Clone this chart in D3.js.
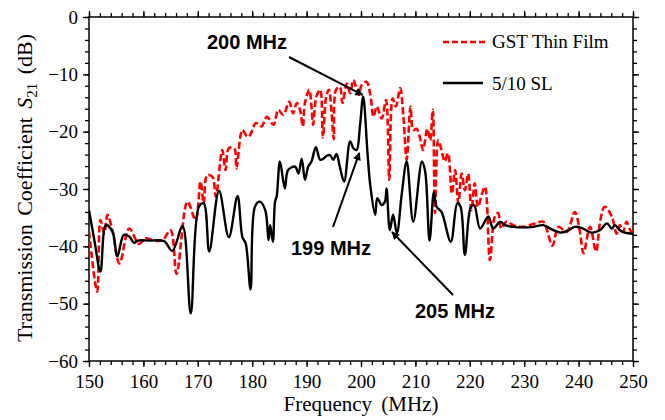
<!DOCTYPE html>
<meta charset="utf-8">
<script src="https://d3js.org/d3.v7.min.js"></script>
<style>
  body { margin: 0; background: #fff; }
  svg text { font-family: "Liberation Serif", "Times New Roman", serif; fill: #000; }
  svg text.anno { font-family: "Liberation Sans", Arial, sans-serif; font-weight: bold; }
</style>
<div id="chart"></div>
<script>

// GST thin film (red dashed)
var gstFreq = [150.0, 151.5, 152.1, 152.8, 153.4, 154.3, 155.6, 157.4, 159.2, 160.4,
  162.0, 163.5, 165.0, 166.1, 168.1, 169.6, 170.5, 171.1, 171.7, 172.7,
  173.3, 174.5, 175.1, 175.7, 176.7, 177.1, 178.2, 179.1, 179.6, 180.7,
  181.7, 182.7, 183.9, 184.8, 185.7, 186.8, 187.5, 188.2, 188.8, 189.3,
  189.7, 190.5, 190.9, 191.2, 191.8, 192.5, 193.0, 193.6, 194.1, 194.6,
  195.0, 195.4, 196.1, 196.6, 197.4, 198.0, 198.6, 199.2, 199.6, 200.1,
  201.0, 201.7, 202.3, 202.9, 203.8, 204.6, 205.2, 205.8, 206.4, 207.2,
  207.8, 208.4, 209.1, 209.6, 210.2, 210.8, 211.4, 212.2, 212.7, 213.2,
  213.6, 214.2, 214.8, 215.4, 216.0, 216.7, 217.3, 217.9, 218.5, 219.1,
  219.7, 220.3, 220.9, 221.5, 222.2, 222.8, 223.7, 224.6, 225.2, 225.8,
  226.7, 228.0, 229.8, 232.0, 233.5, 234.1, 235.2, 236.3, 237.8, 239.3,
  240.2, 240.9, 242.1, 243.2, 244.0, 244.8, 246.1, 247.0, 247.6, 248.2,
  248.8, 249.7, 250.0];
var gstS21 = [-37.4, -47.9, -35.4, -37.7, -34.5, -37.2, -43.0, -36.9, -39.6, -38.6,
  -39.0, -38.9, -37.2, -44.8, -32.2, -35.4, -28.7, -32.5, -27.6, -27.9,
  -31.3, -23.2, -26.7, -22.9, -22.9, -26.4, -19.7, -20.9, -20.6, -18.5,
  -19.1, -17.4, -18.8, -16.2, -17.1, -14.8, -16.8, -15.0, -16.2, -19.1,
  -15.0, -12.7, -15.6, -18.8, -13.9, -12.7, -21.0, -13.9, -12.7, -16.8,
  -21.3, -12.7, -12.2, -15.0, -11.6, -13.3, -11.0, -12.7, -13.6, -11.9,
  -11.3, -13.5, -17.4, -15.6, -17.7, -14.5, -28.4, -14.2, -15.6, -12.4,
  -17.4, -24.9, -15.6, -19.7, -19.5, -20.9, -23.2, -19.5, -21.5, -16.2,
  -34.2, -21.5, -23.2, -25.2, -23.8, -30.8, -26.7, -32.5, -27.3, -30.2,
  -27.3, -33.7, -29.0, -33.1, -31.0, -29.6, -42.4, -34.8, -34.2, -36.9,
  -35.7, -36.3, -36.6, -36.0, -35.7, -36.9, -39.9, -36.6, -37.5, -34.0,
  -37.2, -41.2, -36.6, -40.9, -35.4, -33.1, -34.8, -37.8, -36.3, -37.5,
  -35.7, -37.5, -36.5];

// 5/10 superlattice (black solid)
var slFreq = [150.0, 151.0, 152.1, 153.1, 154.3, 155.2, 156.4, 157.4, 158.3, 159.0,
  161.0, 163.8, 165.3, 167.2, 168.7, 170.2, 171.1, 172.1, 173.9, 175.7,
  177.3, 178.2, 178.8, 179.7, 180.5, 181.4, 182.4, 183.0, 183.3, 183.8,
  184.2, 184.5, 185.1, 186.0, 186.6, 187.9, 188.5, 189.1, 189.7, 190.3,
  190.9, 191.7, 192.5, 193.1, 193.7, 194.3, 194.9, 195.5, 196.1, 196.9,
  198.0, 198.6, 199.2, 199.8, 200.4, 201.2, 201.7, 202.6, 203.0, 203.8,
  204.4, 204.7, 205.3, 205.9, 206.6, 207.5, 208.4, 209.6, 211.2, 211.8,
  212.6, 213.4, 213.9, 214.8, 216.5, 217.7, 218.3, 219.1, 220.2, 220.8,
  221.9, 223.4, 224.3, 225.6, 226.5, 228.0, 229.8, 231.7, 233.5, 234.8,
  236.6, 238.1, 239.3, 240.8, 242.4, 243.9, 245.2, 246.1, 246.7, 247.6,
  248.5, 250.0];
var slS21 = [-33.7, -39.0, -44.4, -36.3, -37.4, -41.8, -38.0, -38.3, -39.4, -39.0,
  -39.0, -39.1, -40.8, -36.5, -51.7, -33.1, -32.5, -40.9, -30.3, -38.4,
  -31.2, -38.4, -39.5, -47.5, -33.1, -32.2, -33.7, -38.9, -36.3, -39.2,
  -32.2, -31.3, -25.2, -29.9, -26.7, -26.1, -27.3, -24.7, -28.4, -26.1,
  -25.2, -22.7, -24.9, -24.7, -24.2, -24.1, -24.9, -23.9, -26.1, -28.7,
  -21.7, -22.9, -23.2, -19.1, -13.9, -23.8, -29.3, -34.5, -31.6, -32.8,
  -32.2, -29.9, -37.2, -34.5, -37.7, -30.8, -25.2, -35.7, -25.2, -27.0,
  -39.0, -30.5, -33.1, -34.0, -39.2, -32.5, -33.1, -41.5, -33.1, -32.8,
  -36.9, -34.8, -36.9, -35.7, -36.3, -36.6, -36.7, -36.6, -36.3, -36.9,
  -37.6, -37.2, -36.6, -36.9, -37.6, -37.2, -36.0, -36.9, -36.3, -37.2,
  -37.6, -37.8];

var xTicks = [150, 160, 170, 180, 190, 200, 210, 220, 230, 240, 250];
var yTicks = [0, -10, -20, -30, -40, -50, -60];
var seriesNames = ["GST Thin Film", "5/10 SL"];

// annotations: label, arrow tip (freq, dB)
var annoLabels = ["200 MHz", "199 MHz", "205 MHz"];
var annoTipFreq = [200.3, 199.7, 205.7];
var annoTipS21 = [-13.6, -23.7, -37.5];

var margin = {top: 17, right: 32, bottom: 59, left: 89},
    width = 665 - margin.left - margin.right,
    height = 420 - margin.top - margin.bottom;

var svg = d3.select("#chart")
  .append("svg")
    .attr("width", 665)
    .attr("height", 420)
  .append("g")
    .attr("transform", "translate(" + margin.left + "," + margin.top + ")");

var x = d3.scaleLinear().domain([150, 250]).range([0, width]);
var y = d3.scaleLinear().domain([-60, 0]).range([height, 0]);

var minorX = d3.range(150, 251, 2);
var minorY = d3.range(-60, 1, 2);

function fmt(d) { return d < 0 ? "\u2212" + Math.abs(d) : d; }

// minor ticks on all sides
function minor(g) { g.selectAll("text").remove(); g.select(".domain").remove(); }
svg.append("g").attr("transform", "translate(0," + height + ")")
  .call(d3.axisBottom(x).tickValues(minorX).tickSize(4)).call(minor);
svg.append("g")
  .call(d3.axisTop(x).tickValues(minorX).tickSize(4)).call(minor);
svg.append("g")
  .call(d3.axisLeft(y).tickValues(minorY).tickSize(4)).call(minor);
svg.append("g").attr("transform", "translate(" + width + ",0)")
  .call(d3.axisRight(y).tickValues(minorY).tickSize(4)).call(minor);

// major axes
var xAxis = svg.append("g").attr("transform", "translate(0," + height + ")")
  .call(d3.axisBottom(x).tickValues(xTicks).tickSize(6).tickPadding(8).tickSizeOuter(0));
var yAxis = svg.append("g")
  .call(d3.axisLeft(y).tickValues(yTicks).tickFormat(fmt).tickSize(6).tickPadding(5).tickSizeOuter(0));
svg.append("g")
  .call(d3.axisTop(x).tickValues(xTicks).tickSize(6).tickFormat("").tickSizeOuter(0));
svg.append("g").attr("transform", "translate(" + width + ",0)")
  .call(d3.axisRight(y).tickValues(yTicks).tickSize(6).tickFormat("").tickSizeOuter(0));

[xAxis, yAxis].forEach(function(a) {
  a.attr("font-family", "Liberation Serif, Times New Roman, serif").attr("font-size", 19);
});
svg.selectAll(".tick line").attr("stroke", "#000").attr("stroke-width", 1.3);
svg.selectAll(".domain").remove();

// frame
svg.append("rect")
  .attr("width", width).attr("height", height)
  .attr("fill", "none").attr("stroke", "#000").attr("stroke-width", 1.5);

svg.append("clipPath").attr("id", "clip")
  .append("rect").attr("width", width).attr("height", height);

var line = d3.line()
  .x(function(d) { return x(d[0]); })
  .y(function(d) { return y(d[1]); })
  .curve(d3.curveCatmullRom.alpha(0.5));

var gstData = d3.zip(gstFreq, gstS21);
var slData = d3.zip(slFreq, slS21);

svg.append("path")
  .datum(gstData)
  .attr("clip-path", "url(#clip)")
  .attr("fill", "none")
  .attr("stroke", "#ff0000")
  .attr("stroke-width", 2.6)
  .attr("stroke-dasharray", "7,3")
  .attr("d", line);

svg.append("path")
  .datum(slData)
  .attr("clip-path", "url(#clip)")
  .attr("fill", "none")
  .attr("stroke", "#000")
  .attr("stroke-width", 2.4)
  .attr("d", line);

// legend
var legend = svg.append("g").attr("transform", "translate(354,0)");
legend.append("line").attr("x1", 0).attr("x2", 42).attr("y1", 25).attr("y2", 25)
  .attr("stroke", "#ff0000").attr("stroke-width", 2.6).attr("stroke-dasharray", "6,3");
legend.append("text").attr("x", 49).attr("y", 31).style("font-size", "19px").text(seriesNames[0]);
legend.append("line").attr("x1", 0).attr("x2", 40).attr("y1", 66).attr("y2", 66)
  .attr("stroke", "#000").attr("stroke-width", 2.4);
legend.append("text").attr("x", 49).attr("y", 73).style("font-size", "19px").text(seriesNames[1]);

// arrows
svg.append("defs").append("marker")
  .attr("id", "arrow")
  .attr("viewBox", "0 0 10 10")
  .attr("refX", 9).attr("refY", 5)
  .attr("markerWidth", 10).attr("markerHeight", 8)
  .attr("markerUnits", "userSpaceOnUse")
  .attr("orient", "auto")
  .append("path").attr("d", "M0,0 L10,5 L0,10 Z").attr("fill", "#000");

// label anchor (centre of text) and arrow start, relative to the plot
var annoText = [[158, 32], [242, 238], [366, 301]];
var annoStart = [[200, 40], [244, 210], [364, 278]];

annoLabels.forEach(function(lbl, i) {
  svg.append("line")
    .attr("x1", annoStart[i][0]).attr("y1", annoStart[i][1])
    .attr("x2", x(annoTipFreq[i])).attr("y2", y(annoTipS21[i]))
    .attr("stroke", "#000").attr("stroke-width", 2)
    .attr("marker-end", "url(#arrow)");
  svg.append("text")
    .attr("class", "anno")
    .attr("x", annoText[i][0]).attr("y", annoText[i][1])
    .attr("text-anchor", "middle")
    .style("font-size", "20px")
    .text(lbl);
});

// axis titles
svg.append("text")
  .attr("x", width / 2).attr("y", height + 50)
  .attr("text-anchor", "middle")
  .style("font-size", "21px")
  .style("word-spacing", "4px")
  .text("Frequency (MHz)");

var yt = svg.append("text")
  .attr("transform", "translate(-57," + (height / 2 - 1) + ") rotate(-90)")
  .attr("text-anchor", "middle")
  .style("font-size", "22px")
  .style("word-spacing", "3px");
yt.append("tspan").text("Transmission Coefficient ");
yt.append("tspan").style("font-style", "italic").text("S");
yt.append("tspan").attr("dy", 5).style("font-size", "15px").text("21");
yt.append("tspan").attr("dy", -5).text(" (dB)");

</script>
